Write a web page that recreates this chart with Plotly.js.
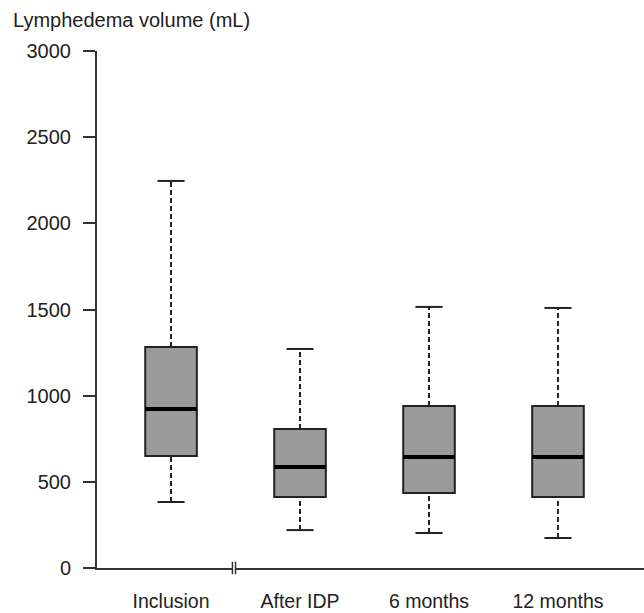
<!DOCTYPE html>
<html>
<head>
<meta charset="utf-8">
<script src="https://cdn.plot.ly/plotly-3.0.1.min.js"></script>
<style>html,body{margin:0;padding:0;background:#fff;}#chart{width:644px;height:613px;}</style>
</head>
<body>
<div id="chart"></div>
<script>
// Data (mL)
const categories = ["Inclusion", "After IDP", "6 months", "12 months"];
const lowerWhisker = [383, 220, 203, 174];
const q1Values = [650, 412, 435, 412];
const medianValues = [923, 586, 644, 644];
const q3Values = [1282, 807, 940, 940];
const upperWhisker = [2246, 1271, 1515, 1509];
const yTickVals = [0, 500, 1000, 1500, 2000, 2500, 3000];
const yTickText = ["0", "500", "1000", "1500", "2000", "2500", "3000"];

const xPos = categories.map((c, i) => i);
const boxHalf = 0.2;
const capHalf = 0.105;
const breakAt = 0.488;
const fontFam = "Liberation Sans, Arial, sans-serif";
const ink = "#222";

const traces = [];
// Boxes (whiskers drawn separately as dashed lines)
traces.push({
  type: "box",
  x: xPos,
  q1: q1Values,
  median: medianValues,
  q3: q3Values,
  lowerfence: q1Values,
  upperfence: q3Values,
  width: boxHalf * 2,
  fillcolor: "#9b9b9b",
  line: {color: ink, width: 2},
  whiskerwidth: 0,
  boxpoints: false,
  hoverinfo: "skip",
  showlegend: false
});

// Dashed whiskers
const wx = [], wy = [];
xPos.forEach((x, i) => {
  wx.push(x, x, null, x, x, null);
  wy.push(q3Values[i], upperWhisker[i], null, lowerWhisker[i], q1Values[i], null);
});
traces.push({type: "scatter", mode: "lines", x: wx, y: wy,
  line: {color: ink, width: 2, dash: "5px,3px"}, hoverinfo: "skip", showlegend: false});

// Whisker caps
const cx = [], cy = [];
xPos.forEach((x, i) => {
  cx.push(x - capHalf, x + capHalf, null, x - capHalf, x + capHalf, null);
  cy.push(upperWhisker[i], upperWhisker[i], null, lowerWhisker[i], lowerWhisker[i], null);
});
traces.push({type: "scatter", mode: "lines", x: cx, y: cy,
  line: {color: ink, width: 2}, hoverinfo: "skip", showlegend: false});

// Thick medians
const mx = [], my = [];
xPos.forEach((x, i) => {
  mx.push(x - boxHalf, x + boxHalf, null);
  my.push(medianValues[i], medianValues[i], null);
});
traces.push({type: "scatter", mode: "lines", x: mx, y: my,
  line: {color: "#000", width: 4}, hoverinfo: "skip", showlegend: false});

const layout = {
  width: 644, height: 613,
  margin: {l: 97, r: 0, t: 51, b: 45},
  paper_bgcolor: "#fff", plot_bgcolor: "#fff",
  font: {family: fontFam, size: 20, color: ink},
  title: {text: "Lymphedema volume (mL)", x: 13 / 644, xanchor: "left", xref: "container",
    y: 1 - 20 / 613, yanchor: "middle", yref: "container",
    font: {family: fontFam, size: 20, color: ink}},
  xaxis: {
    range: [-0.574, 3.667], tickvals: xPos, ticktext: categories,
    showgrid: false, zeroline: false, showline: true, linecolor: "#333", linewidth: 2,
    ticks: "", ticklabelstandoff: 15, tickfont: {size: 19.5}, fixedrange: true
  },
  yaxis: {
    range: [0, 3000], tickvals: yTickVals, ticktext: yTickText,
    showgrid: false, zeroline: false, showline: true, linecolor: "#333", linewidth: 2,
    ticks: "outside", ticklen: 12, tickwidth: 2, tickcolor: "#333",
    ticklabelstandoff: 8, tickfont: {size: 20}, fixedrange: true
  },
  shapes: [
    {type: "rect", xref: "x", yref: "paper", x0: breakAt - 0.012, x1: breakAt + 0.012,
      y0: -0.011, y1: 0.011, fillcolor: "#fff", line: {width: 0}},
    {type: "line", xref: "x", yref: "paper", x0: breakAt - 0.012, x1: breakAt - 0.012,
      y0: -0.012, y1: 0.012, line: {color: "#333", width: 1.5}},
    {type: "line", xref: "x", yref: "paper", x0: breakAt + 0.012, x1: breakAt + 0.012,
      y0: -0.012, y1: 0.012, line: {color: "#333", width: 1.5}}
  ]
};

Plotly.newPlot("chart", traces, layout, {displayModeBar: false, staticPlot: true});
</script>
</body>
</html>
